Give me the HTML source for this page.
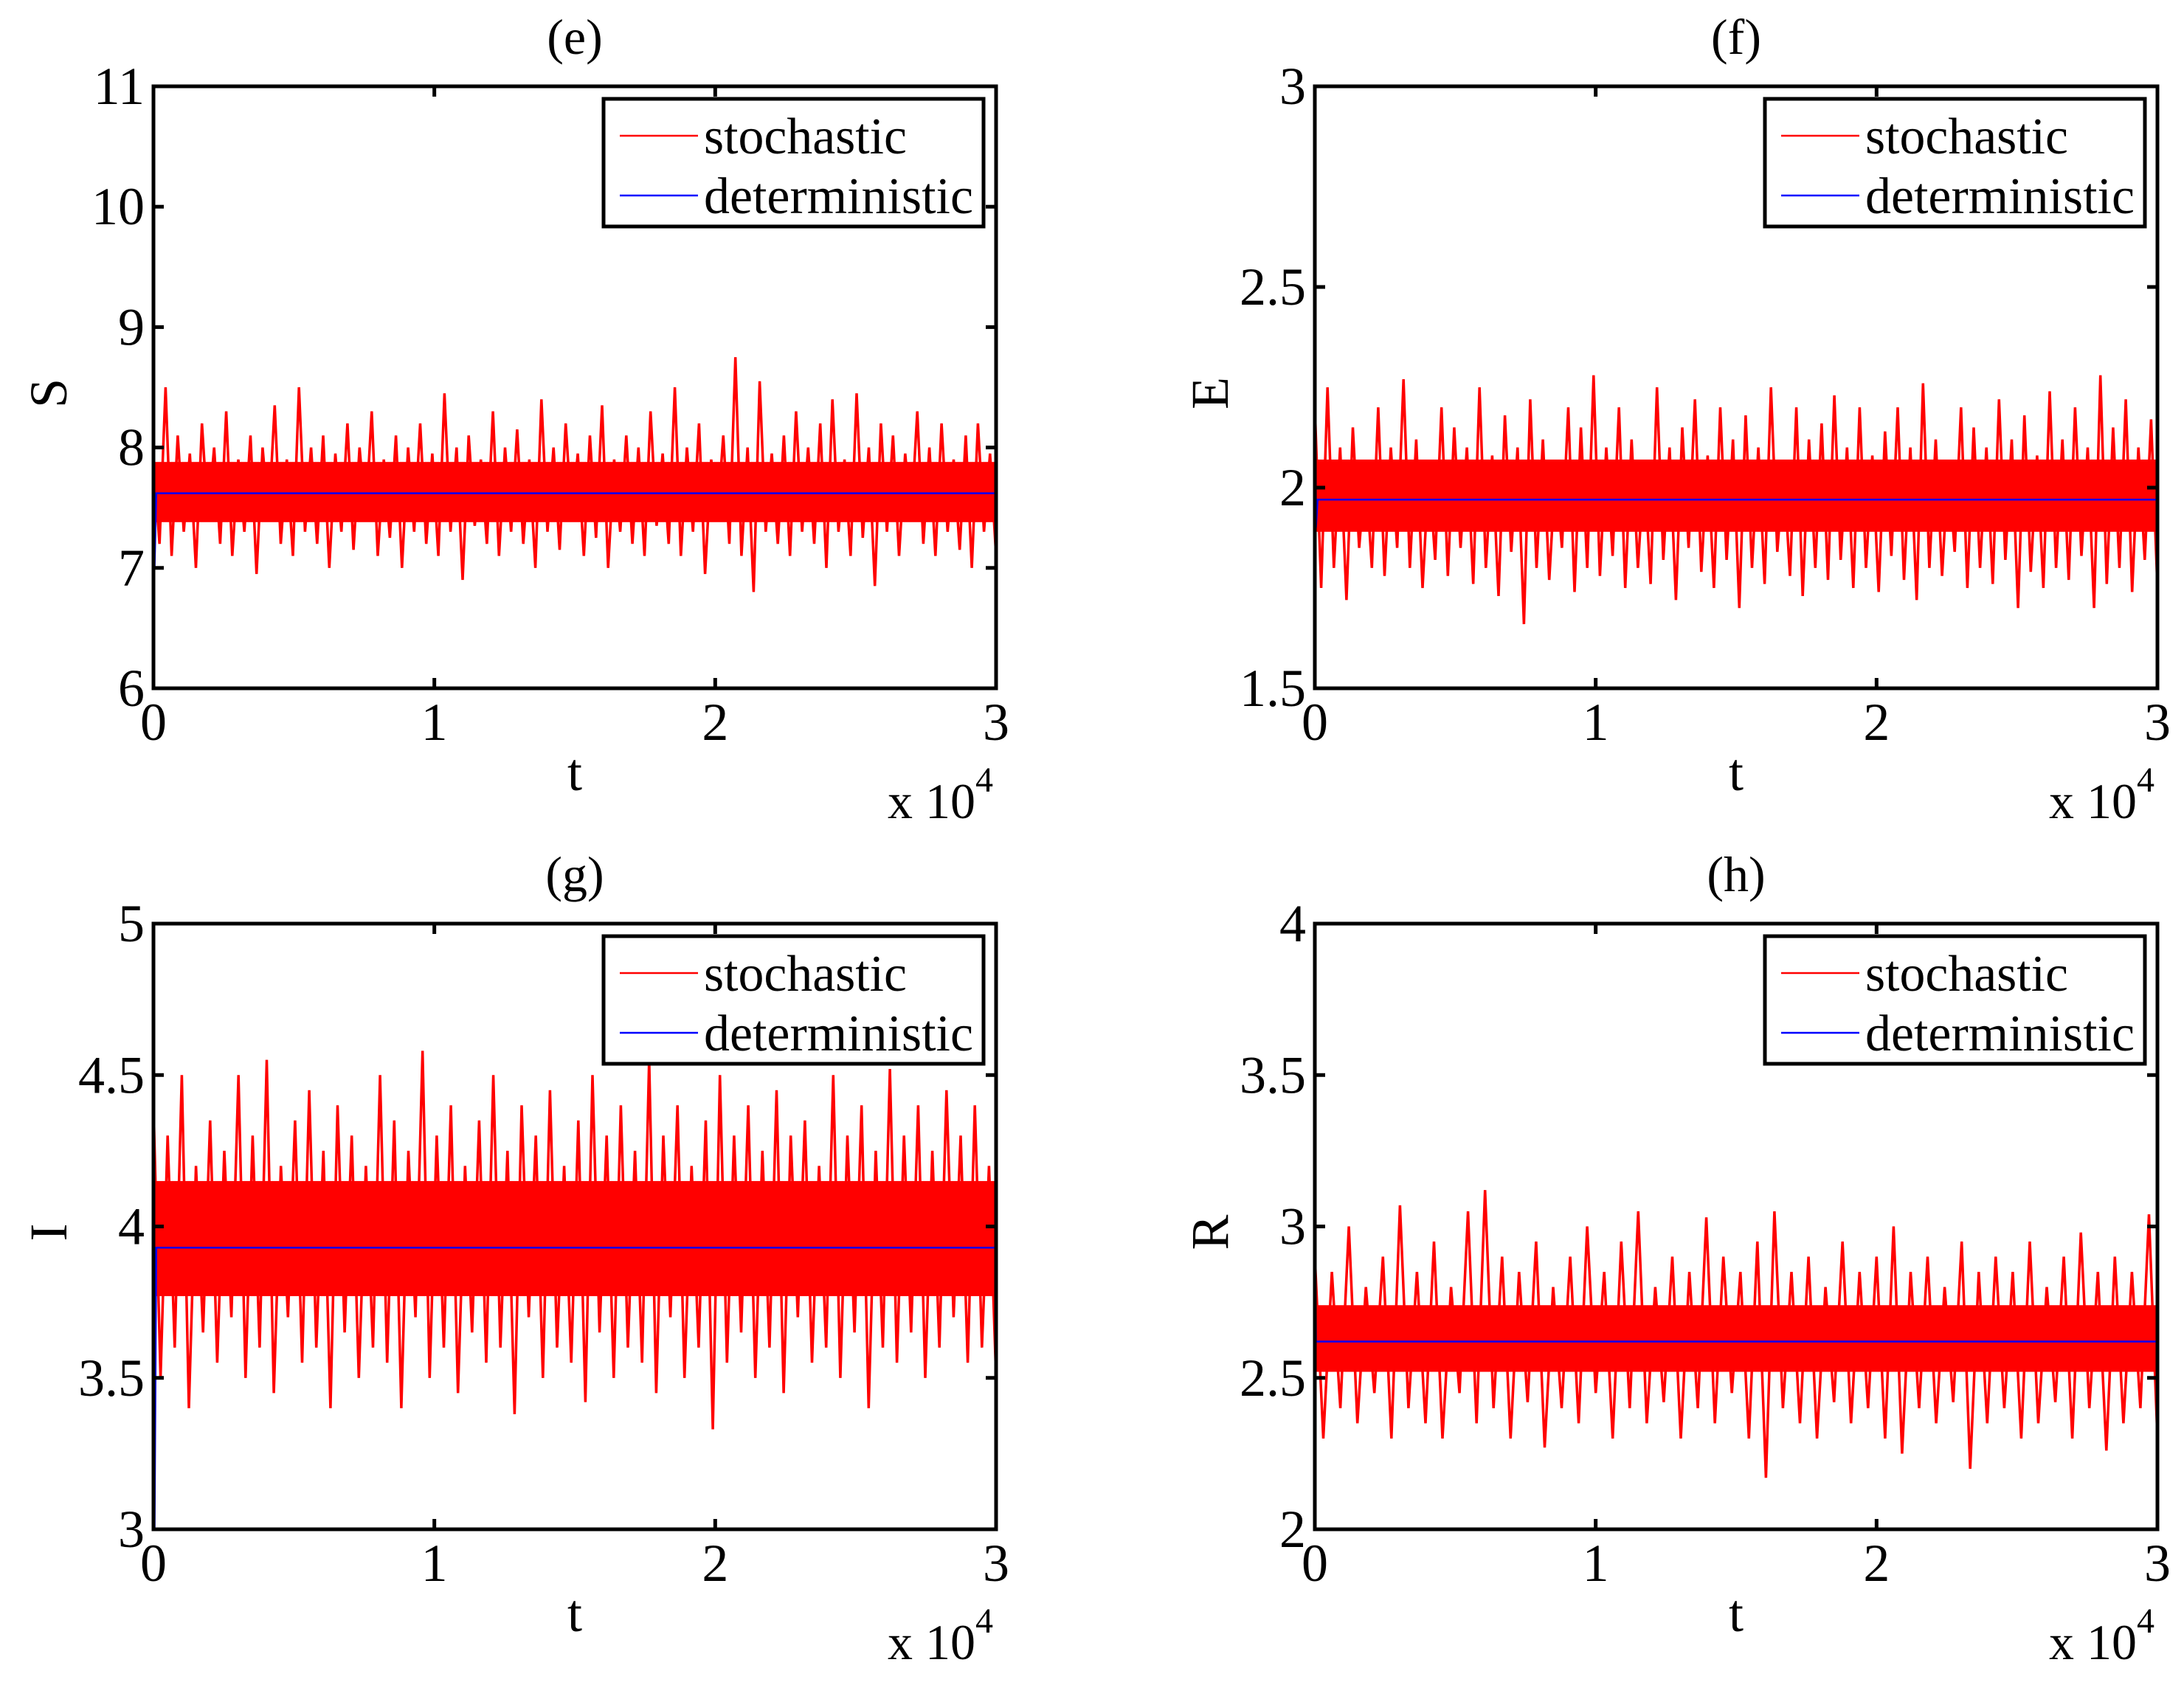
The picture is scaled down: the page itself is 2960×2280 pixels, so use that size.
<!DOCTYPE html>
<html><head><meta charset="utf-8">
<style>
html,body{margin:0;padding:0;background:#fff;}
svg{display:block;font-family:"Liberation Serif",serif;}
</style></head>
<body>
<svg id="fig" width="2960" height="2280" viewBox="0 0 2960 2280" xmlns="http://www.w3.org/2000/svg">
<rect width="2960" height="2280" fill="#fff"/>
</svg>
<script>
// ---- data ----
const tTicks = [0, 1, 2, 3];
const sTicks = [6, 7, 8, 9, 10, 11];
const eTicks = [1.5, 2, 2.5, 3];
const iTicks = [3, 3.5, 4, 4.5, 5];
const rTicks = [2, 2.5, 3, 3.5, 4];

const sStoch = [7.9,7.2,8.5,7.1,8.1,7.3,7.95,7.0,8.2,7.4,8.0,7.2,8.3,7.1,7.9,7.3,8.1,6.95,8.0,7.4,8.35,7.2,7.9,7.1,8.5,7.3,8.0,7.2,8.1,7.0,7.95,7.3,8.2,7.15,8.0,7.4,8.3,7.1,7.9,7.25,8.1,7.0,8.0,7.3,8.2,7.2,7.95,7.1,8.45,7.3,8.0,6.9,8.1,7.35,7.9,7.2,8.3,7.1,8.0,7.3,8.15,7.2,7.9,7.0,8.4,7.3,8.0,7.15,8.2,7.4,7.95,7.1,8.1,7.25,8.35,7.0,7.9,7.3,8.1,7.2,8.0,7.1,8.3,7.35,7.95,7.2,8.5,7.1,8.0,7.3,8.2,6.95,7.9,7.4,8.1,7.2,8.75,7.1,8.0,6.8,8.55,7.3,7.95,7.2,8.1,7.1,8.3,7.3,8.0,7.2,8.2,7.0,8.4,7.3,7.9,7.1,8.45,7.25,8.0,6.85,8.2,7.3,8.1,7.1,7.95,7.4,8.3,7.2,8.0,7.1,8.2,7.3,7.9,7.15,8.1,7.0,8.2,7.3,7.95,7.1];
const eStoch = [2.2,1.75,2.25,1.8,2.1,1.72,2.15,1.85,2.05,1.8,2.2,1.78,2.1,1.85,2.27,1.8,2.12,1.75,2.05,1.82,2.2,1.78,2.15,1.85,2.1,1.76,2.25,1.8,2.08,1.73,2.18,1.84,2.1,1.66,2.22,1.8,2.12,1.77,2.05,1.85,2.2,1.74,2.15,1.8,2.28,1.78,2.1,1.83,2.2,1.75,2.12,1.8,2.06,1.76,2.25,1.82,2.1,1.72,2.15,1.85,2.22,1.79,2.08,1.75,2.2,1.82,2.12,1.7,2.18,1.8,2.1,1.76,2.25,1.84,2.05,1.78,2.2,1.73,2.12,1.8,2.16,1.77,2.23,1.82,2.1,1.75,2.2,1.8,2.08,1.74,2.14,1.83,2.2,1.77,2.1,1.72,2.26,1.8,2.12,1.78,2.06,1.84,2.2,1.75,2.15,1.8,2.1,1.76,2.22,1.82,2.12,1.7,2.18,1.79,2.08,1.75,2.24,1.8,2.12,1.77,2.2,1.83,2.1,1.7,2.28,1.76,2.15,1.8,2.22,1.74,2.1,1.82,2.17,1.75];
const iStoch = [4.4,3.5,4.3,3.6,4.5,3.4,4.2,3.65,4.35,3.55,4.25,3.7,4.5,3.5,4.3,3.6,4.55,3.45,4.2,3.7,4.35,3.55,4.45,3.6,4.25,3.4,4.4,3.65,4.3,3.5,4.2,3.6,4.5,3.55,4.35,3.4,4.25,3.7,4.58,3.5,4.3,3.6,4.4,3.45,4.2,3.65,4.35,3.55,4.5,3.6,4.25,3.38,4.4,3.7,4.3,3.5,4.45,3.6,4.2,3.55,4.35,3.42,4.5,3.65,4.3,3.5,4.4,3.6,4.25,3.55,4.55,3.45,4.3,3.7,4.4,3.5,4.2,3.6,4.35,3.33,4.5,3.55,4.3,3.65,4.4,3.5,4.25,3.6,4.45,3.45,4.3,3.7,4.35,3.55,4.2,3.6,4.5,3.5,4.3,3.65,4.4,3.4,4.25,3.6,4.52,3.55,4.3,3.65,4.4,3.5,4.25,3.6,4.45,3.7,4.3,3.55,4.4,3.6,4.2,3.5];
const rStoch = [2.9,2.3,2.85,2.4,3.0,2.35,2.8,2.45,2.9,2.3,3.07,2.4,2.85,2.35,2.95,2.3,2.8,2.45,3.05,2.35,3.12,2.4,2.9,2.3,2.85,2.42,2.95,2.27,2.8,2.4,2.9,2.35,3.0,2.45,2.85,2.3,2.95,2.4,3.05,2.35,2.8,2.42,2.9,2.3,2.85,2.4,3.03,2.35,2.9,2.45,2.85,2.3,2.95,2.17,3.05,2.4,2.85,2.35,2.9,2.3,2.8,2.42,2.95,2.35,2.85,2.4,2.9,2.3,3.0,2.25,2.85,2.4,2.9,2.35,2.8,2.42,2.95,2.2,2.85,2.35,2.9,2.4,2.85,2.3,2.95,2.35,2.8,2.42,2.9,2.3,2.98,2.4,2.85,2.26,2.9,2.35,2.85,2.4,3.04,2.3];

// core band [low, high]
const sBand = [7.38, 7.88];
const eBand = [1.89, 2.07];
const iBand = [3.77, 4.15];
const rBand = [2.52, 2.74];

// deterministic: [initial, dip, steady]
const sDet = [10.0, 7.0, 7.62];
const eDet = [2.9, 1.9, 1.97];
const iDet = [4.9, 3.0, 3.93];
const rDet = [3.2, 2.62, 2.62];

const panels = [
  {id:'e', title:'(e)', ylab:'S', ticks:sTicks, stoch:sStoch, band:sBand, det:sDet, x0:208, x1:1350, y0:117, y1:933},
  {id:'f', title:'(f)', ylab:'E', ticks:eTicks, stoch:eStoch, band:eBand, det:eDet, x0:1782, x1:2924, y0:117, y1:933},
  {id:'g', title:'(g)', ylab:'I', ticks:iTicks, stoch:iStoch, band:iBand, det:iDet, x0:208, x1:1350, y0:1252, y1:2073},
  {id:'h', title:'(h)', ylab:'R', ticks:rTicks, stoch:rStoch, band:rBand, det:rDet, x0:1782, x1:2924, y0:1252, y1:2073}
];

const NS = 'http://www.w3.org/2000/svg';
const svg = document.getElementById('fig');
function mk(tag, attrs, parent, text){
  const el = document.createElementNS(NS, tag);
  for (const k in attrs) el.setAttribute(k, attrs[k]);
  if (text !== undefined) el.textContent = text;
  parent.appendChild(el);
  return el;
}

panels.forEach(p => {
  const g = mk('g', {}, svg);
  
  
  const ymin = p.ticks[0], ymax = p.ticks[p.ticks.length-1];
  const xs = v => p.x0 + (v - 0) / 3 * (p.x1 - p.x0);
  const ys = v => p.y1 - (v - ymin) / (ymax - ymin) * (p.y1 - p.y0);
  const n = p.stoch.length;
  const xi = i => xs(i / (n - 1) * 3);

  const band = mk('rect', {x:xs(0), y:ys(p.band[1]), width:xs(3)-xs(0), height:ys(p.band[0])-ys(p.band[1]), fill:'#ff0000'}, g);
  
  

  const pts = p.stoch.map((v,i) => xi(i).toFixed(1) + ',' + ys(v).toFixed(1)).join(' ');
  const st = mk('polyline', {points:pts, fill:'none', stroke:'#ff0000', 'stroke-width':3.5}, g);
  
  

  const dpts = [[xs(0), ys(p.det[0])], [xs(0.004), ys(p.det[1])], [xs(0.01), ys(p.det[2])], [xs(3), ys(p.det[2])]]
    .map(a => a[0].toFixed(1) + ',' + a[1].toFixed(1)).join(' ');
  const dl = mk('polyline', {points:dpts, fill:'none', stroke:'#0000ff', 'stroke-width':2.5}, g);
  
  

  const box = mk('rect', {x:p.x0, y:p.y0, width:p.x1-p.x0, height:p.y1-p.y0, fill:'none', stroke:'#000', 'stroke-width':5}, g);
  
  

  tTicks.forEach(t => {
    const x = xs(t);
    mk('line', {x1:x, y1:p.y1, x2:x, y2:p.y1-14, stroke:'#000', 'stroke-width':5}, g);
    mk('line', {x1:x, y1:p.y0, x2:x, y2:p.y0+14, stroke:'#000', 'stroke-width':5}, g);
    const tl = mk('text', {x:x, y:p.y1+70, 'font-size':72, 'text-anchor':'middle'}, g, String(t));
    
    
  });
  p.ticks.forEach(v => {
    const y = ys(v);
    mk('line', {x1:p.x0, y1:y, x2:p.x0+14, y2:y, stroke:'#000', 'stroke-width':5}, g);
    mk('line', {x1:p.x1, y1:y, x2:p.x1-14, y2:y, stroke:'#000', 'stroke-width':5}, g);
    const yl = mk('text', {x:p.x0-12, y:y+24, 'font-size':72, 'text-anchor':'end'}, g, String(v));
    
    
  });

  const tt = mk('text', {x:(p.x0+p.x1)/2, y:p.y0-44, 'font-size':68, 'text-anchor':'middle'}, g, p.title);
  
  
  const xl = mk('text', {x:(p.x0+p.x1)/2, y:p.y1+138, 'font-size':72, 'text-anchor':'middle'}, g, 't');
  
  
  const ex = mk('text', {x:p.x1-4, y:p.y1+176, 'font-size':68, 'text-anchor':'end'}, g);
  
  
  mk('tspan', {}, ex, 'x 10');
  mk('tspan', {dy:-36, 'font-size':48}, ex, '4');
  const yx = p.x0 - 118, yy = (p.y0+p.y1)/2 + 8;
  const ylab = mk('text', {x:yx, y:yy, 'font-size':72, 'text-anchor':'middle', transform:'rotate(-90 '+yx+' '+yy+')'}, g, p.ylab);
  
  

  const lx0 = p.x0 + 610, lx1 = p.x0 + 1125, ly0 = p.y0 + 17, ly1 = p.y0 + 190;
  const lg = mk('g', {}, g);
  
  
  mk('rect', {x:lx0, y:ly0, width:lx1-lx0, height:ly1-ly0, fill:'#fff', stroke:'#000', 'stroke-width':5}, lg);
  const e1 = mk('g', {}, lg);
  
  
  mk('line', {x1:lx0+22, y1:ly0+50, x2:lx0+128, y2:ly0+50, stroke:'#ff0000', 'stroke-width':2.5}, e1);
  mk('text', {x:lx0+136, y:ly0+74, 'font-size':70, textLength:275, lengthAdjust:'spacingAndGlyphs'}, e1, 'stochastic');
  const e2 = mk('g', {}, lg);
  
  
  mk('line', {x1:lx0+22, y1:ly0+131, x2:lx0+128, y2:ly0+131, stroke:'#0000ff', 'stroke-width':2.5}, e2);
  mk('text', {x:lx0+136, y:ly0+155, 'font-size':70, textLength:365, lengthAdjust:'spacingAndGlyphs'}, e2, 'deterministic');
});
</script>
</body></html>
